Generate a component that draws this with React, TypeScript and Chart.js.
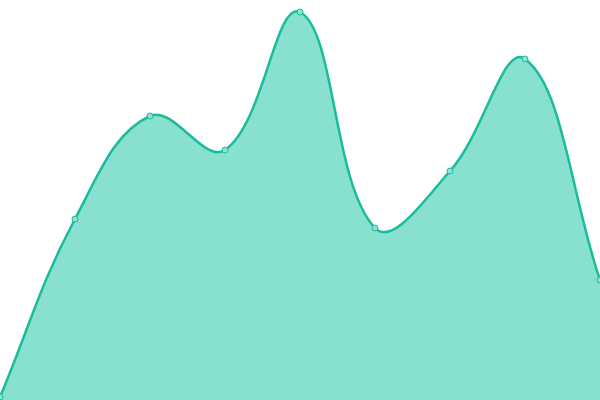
import React, { useEffect, useRef } from 'react';
import Chart from 'chart.js/auto';

const labels = ['1', '2', '3', '4', '5', '6', '7', '8', '9'];
const values = [3, 181, 284, 250, 388, 172, 229, 341, 120];
const yMin = 0;
const yMax = 400;

const AreaChart: React.FC = () => {
  const chartRef = useRef<HTMLCanvasElement | null>(null);

  useEffect(() => {
    if (!chartRef.current) return;
    const ctx = chartRef.current.getContext('2d');
    if (!ctx) return;

    const myChart = new Chart(ctx, {
      type: 'line',
      data: {
        labels: labels,
        datasets: [
          {
            data: values,
            fill: 'origin',
            clip: false,
            backgroundColor: 'rgb(136, 224, 207)',
            borderColor: 'rgb(26, 188, 156)',
            borderWidth: 2.5,
            tension: 0.4,
            pointRadius: 3,
            pointBorderWidth: 1,
            pointBackgroundColor: 'rgb(140, 226, 208)',
            pointBorderColor: 'rgb(26, 188, 156)',
          },
        ],
      },
      options: {
        animation: false,
        responsive: true,
        maintainAspectRatio: false,
        layout: { padding: 0, autoPadding: false },
        plugins: {
          legend: { display: false },
          tooltip: { enabled: false },
        },
        scales: {
          x: { display: false },
          y: { display: false, min: yMin, max: yMax },
        },
      },
    });

    return () => {
      myChart.destroy();
    };
  }, []);

  return (
    <div style={{ position: 'absolute', left: 0, top: 0, width: 600, height: 400 }}>
      <canvas ref={chartRef} />
    </div>
  );
};

export default function App() {
  return <AreaChart />;
}
